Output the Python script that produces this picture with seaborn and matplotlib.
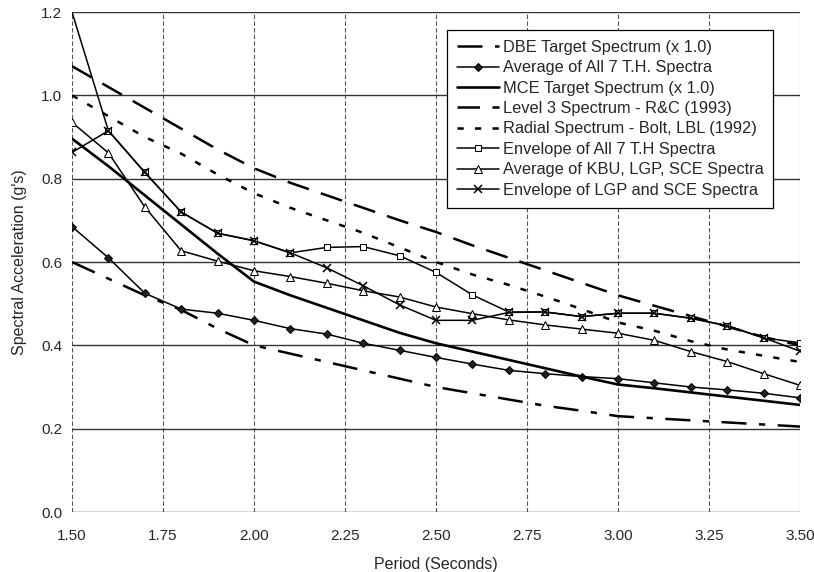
import numpy as np
import pandas as pd
import matplotlib
matplotlib.use("Agg")
import matplotlib.pyplot as plt
import seaborn as sns

period = [1.5, 1.6, 1.7, 1.8, 1.9, 2.0, 2.1, 2.2, 2.3, 2.4, 2.5,
          2.6, 2.7, 2.8, 2.9, 3.0, 3.1, 3.2, 3.3, 3.4, 3.5]

dbe_target = [0.60, 0.56, 0.52, 0.485, 0.44, 0.40, 0.38, 0.36, 0.34, 0.32, 0.30,
              0.285, 0.27, 0.255, 0.243, 0.23, 0.225, 0.22, 0.215, 0.21, 0.205]
avg_all7 = [0.685, 0.61, 0.525, 0.487, 0.477, 0.46, 0.44, 0.427, 0.405, 0.388, 0.371,
            0.355, 0.34, 0.332, 0.325, 0.32, 0.31, 0.30, 0.293, 0.285, 0.274]
mce_target = [0.896, 0.83, 0.76, 0.69, 0.62, 0.553, 0.52, 0.49, 0.46, 0.43, 0.405,
              0.385, 0.365, 0.345, 0.325, 0.306, 0.297, 0.287, 0.277, 0.267, 0.257]
level3_rc = [1.07, 1.02, 0.97, 0.92, 0.87, 0.825, 0.79, 0.76, 0.73, 0.70, 0.672,
             0.64, 0.61, 0.58, 0.55, 0.52, 0.495, 0.47, 0.445, 0.42, 0.40]
radial_bolt = [1.0, 0.95, 0.90, 0.86, 0.81, 0.765, 0.73, 0.70, 0.67, 0.635, 0.60,
               0.57, 0.545, 0.517, 0.487, 0.455, 0.435, 0.41, 0.39, 0.375, 0.36]
env_all7 = [1.2, 0.915, 0.815, 0.72, 0.669, 0.651, 0.622, 0.635, 0.637, 0.615, 0.575,
            0.521, 0.48, 0.48, 0.469, 0.477, 0.477, 0.465, 0.447, 0.418, 0.406]
avg_kbu = [0.935, 0.862, 0.732, 0.627, 0.602, 0.579, 0.565, 0.549, 0.531, 0.516, 0.492,
           0.476, 0.461, 0.449, 0.439, 0.429, 0.412, 0.385, 0.361, 0.332, 0.304]
env_lgp_sce = [0.863, 0.915, 0.815, 0.72, 0.669, 0.651, 0.622, 0.586, 0.543, 0.497, 0.46,
               0.46, 0.479, 0.48, 0.469, 0.477, 0.477, 0.465, 0.447, 0.418, 0.386]

labels = ["DBE Target Spectrum (x 1.0)",
          "Average of All 7 T.H. Spectra",
          "MCE Target Spectrum (x 1.0)",
          "Level 3 Spectrum - R&C (1993)",
          "Radial Spectrum - Bolt, LBL (1992)",
          "Envelope of All 7 T.H Spectra",
          "Average of KBU, LGP, SCE Spectra",
          "Envelope of LGP and SCE Spectra"]
x_ticks = [1.50, 1.75, 2.00, 2.25, 2.50, 2.75, 3.00, 3.25, 3.50]
y_ticks = [0.0, 0.2, 0.4, 0.6, 0.8, 1.0, 1.2]

series = [dbe_target, avg_all7, mce_target, level3_rc, radial_bolt,
          env_all7, avg_kbu, env_lgp_sce]

styles = [
    dict(linestyle=(0, (10, 5, 2.5, 5)), linewidth=1.8, marker=None),
    dict(linestyle="-", linewidth=1.1, marker="D", markersize=4,
         markerfacecolor="#222222", markeredgecolor="black"),
    dict(linestyle="-", linewidth=1.9, marker=None),
    dict(linestyle=(0, (9, 5)), linewidth=1.8, marker=None),
    dict(linestyle=(0, (2.5, 4.5)), linewidth=1.8, marker=None),
    dict(linestyle="-", linewidth=1.1, marker="s", markersize=5,
         markerfacecolor="white", markeredgecolor="black",
         markevery=list(range(1, len(period)))),
    dict(linestyle="-", linewidth=1.1, marker="^", markersize=5.5,
         markerfacecolor="white", markeredgecolor="black"),
    dict(linestyle="-", linewidth=1.1, marker="x", markersize=6,
         markeredgecolor="black", markeredgewidth=1.1),
]

sns.set_style("white")
plt.rcParams["font.family"] = ["Liberation Sans", "DejaVu Sans"]

fig = plt.figure(figsize=(8.14, 5.72), dpi=100)
ax = fig.add_axes([72 / 814, 1 - 512 / 572, 728 / 814, 500 / 572])

for vals, lab, st in zip(series, labels, styles):
    df = pd.DataFrame({"Period": period, "SA": vals})
    sns.lineplot(data=df, x="Period", y="SA", ax=ax, color="black",
                 label=lab, legend=False, clip_on=True, **st)

ax.set_xlim(1.5, 3.5)
ax.set_ylim(0.0, 1.2)
ax.set_xticks(x_ticks)
ax.set_xticklabels([f"{t:.2f}" for t in x_ticks])
ax.set_yticks(y_ticks)
ax.set_yticklabels([f"{t:.1f}" for t in y_ticks])
ax.tick_params(axis="x", labelsize=11, length=0, pad=12)
ax.tick_params(axis="y", labelsize=11, length=0, pad=7)

for t in x_ticks:
    ax.axvline(t, color="#555555", linestyle=(0, (4, 2)), linewidth=0.8, zorder=0)
for t in y_ticks:
    ax.axhline(t, color="#333333", linestyle="-", linewidth=1.0, zorder=0)
for s in ax.spines.values():
    s.set_visible(False)

ax.set_xlabel("Period (Seconds)", fontsize=11.5, labelpad=10)
ax.set_ylabel("Spectral Acceleration (g's)", fontsize=11.5, labelpad=10)

handles, labs = ax.get_legend_handles_labels()
leg = ax.legend(handles, labs, loc="upper left", bbox_to_anchor=(0.515, 0.964),
                borderaxespad=0, fontsize=11.8, frameon=True, fancybox=False,
                edgecolor="black", framealpha=1, handlelength=2.6,
                handletextpad=0.2, labelspacing=0.33, borderpad=0.6)
leg.get_frame().set_linewidth(0.9)

fig.savefig("out.png", dpi=100)
